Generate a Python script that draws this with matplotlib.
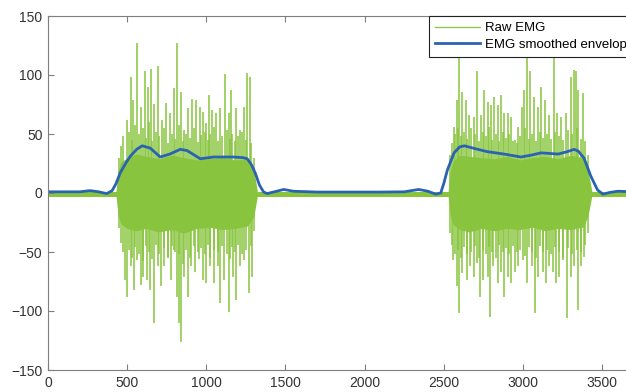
import matplotlib
matplotlib.use('Agg')
import matplotlib.pyplot as plt

plt.rcParams.update({
    'font.family': ['Liberation Sans', 'DejaVu Sans'],
    'font.size': 10,
})

# 색상
raw_color = '#88c43d'
env_color = '#2a63b2'

# 부드러운 포락선 (EMG smoothed envelope)
env_x = [0, 100, 200, 266, 320, 371, 405, 430, 456, 490, 519, 560, 595, 646, 709, 770, 835, 878,
         962, 1046, 1110, 1171, 1230, 1259, 1285, 1310, 1335, 1361, 1384, 1430, 1489, 1550,
         1700, 1900, 2100, 2250, 2342, 2400, 2449, 2481, 2500, 2523, 2565, 2600, 2630, 2700,
         2776, 2880, 2987, 3050, 3114, 3170, 3222, 3280, 3323, 3350, 3386, 3430, 3472, 3506,
         3550, 3600, 3700]
env_y = [1, 1, 1, 2, 1, -0.5, 2, 8, 17, 25, 31, 37, 40, 38, 30.5, 33, 37, 36,
         29, 30.5, 30.5, 30.5, 30, 29, 24, 16.7, 7, 1, -0.5, 1, 3, 1.5,
         0.8, 0.8, 0.8, 1, 3, 1.5, -1, 0, 8, 19.5, 34, 39, 40, 37.5,
         35, 33, 30.5, 32, 34, 33.5, 33, 35, 37, 35.5, 29.6, 14, 2.5, -1,
         0.5, 1.5, 1]

# 원시 EMG 기저 잡음 띠
base_x = [0, 3700]
base_hi = [1.0, 1.0]
base_lo = [-3.0, -3.0]

# 버스트 몸통 (밀집 영역)
body1_x = [430, 442, 460, 500, 560, 620, 700, 780, 860, 940, 1020, 1100, 1180, 1260, 1300, 1322]
body1_hi = [2, 18, 26, 30, 33, 31, 29, 32, 30, 28, 29, 30, 28, 29, 20, 2]
body1_lo = [-3, -18, -26, -30, -32, -30, -33, -31, -34, -30, -29, -31, -30, -28, -20, -3]
body2_x = [2528, 2540, 2560, 2600, 2660, 2740, 2820, 2900, 2980, 3060, 3140, 3220, 3300, 3380, 3410, 3435]
body2_hi = [2, 18, 27, 32, 31, 30, 29, 31, 28, 30, 31, 29, 32, 30, 20, 2]
body2_lo = [-3, -18, -27, -31, -33, -30, -32, -30, -31, -29, -32, -30, -31, -29, -20, -3]

# 양의 스파이크 (큰 것)
up_x = [498, 523, 540, 565, 587, 610, 629, 650, 671, 692, 719, 747, 772, 793, 814, 840, 861,
        882, 909, 937, 958, 979, 1000, 1015, 1036, 1063, 1089, 1120, 1141, 1156, 1190, 1215,
        1241, 1258, 1274,
        2565, 2582, 2597, 2618, 2639, 2660, 2688, 2713, 2736, 2755, 2777, 2798, 2819, 2840,
        2861, 2882, 2903, 2924, 2949, 2970, 2992, 3004, 3025, 3046, 3072, 3097, 3114, 3139,
        3167, 3194, 3215, 3240, 3272, 3304, 3321, 3335, 3350, 3378]
up_y = [62, 98.6, 79, 127, 73, 103, 90, 105, 75, 108, 62, 76, 67.5, 88.7, 127, 86, 53,
        72, 80, 79, 73, 69, 59, 83, 70, 67.5, 72, 101, 67.5, 87, 72, 53,
        73, 102, 98.6,
        56, 79, 120, 86, 79, 66, 64.7, 103, 66, 87, 77, 74.5, 81.6, 74.5,
        83, 67.5, 67.5, 64.7, 45, 56, 73, 87, 120, 103, 81.6, 73, 90, 79,
        66, 120, 67.5, 64.7, 67.5, 98.6, 104, 103, 87, 84.5]

# 음의 스파이크 (큰 것)
dn_x = [487, 502, 523, 544, 565, 587, 603, 625, 646, 667, 692, 713, 734, 755, 776, 797, 814,
        825, 840, 861, 882, 903, 930, 951, 979, 1000, 1021, 1046, 1072, 1089, 1110, 1146,
        1169, 1190, 1215, 1241, 1268, 1289,
        2561, 2582, 2597, 2618, 2646, 2667, 2692, 2713, 2730, 2751, 2777, 2793, 2814, 2840,
        2861, 2882, 2903, 2924, 2949, 2970, 2998, 3025, 3055, 3076, 3097, 3125, 3146, 3167,
        3188, 3209, 3230, 3251, 3278, 3304, 3325, 3346, 3367, 3388]
dn_y = [-73.7, -88, -62, -82, -57, -78, -71, -74, -82, -110, -62, -79, -62, -54, -74, -48, -88,
        -110, -126, -71, -88, -62, -67, -56, -74, -76.5, -62, -76.5, -62, -93.5, -74, -100.6,
        -71, -90.7, -62, -57, -85, -71,
        -56.8, -79, -102, -68, -73.7, -62, -71, -59.6, -88, -73.7, -71, -104.8, -62, -76.5,
        -67, -88, -71, -76.5, -67, -62, -56.8, -76.5, -62, -102, -71, -67, -76.5, -62,
        -67, -76.5, -71, -56.8, -106, -71, -62, -99, -62, -54]

# 중간 크기 스파이크 (밀집 질감)
mid_x = [450, 462, 475, 510, 532, 552, 576, 598, 618, 640, 660, 682, 704, 730, 760, 782, 804,
         828, 850, 872, 894, 920, 947, 968, 990, 1008, 1026, 1050, 1076, 1100, 1130, 1150,
         1165, 1180, 1202, 1228, 1250, 1282, 1300,
         2540, 2555, 2574, 2590, 2608, 2628, 2650, 2674, 2700, 2725, 2745, 2766, 2788, 2808,
         2830, 2850, 2872, 2892, 2914, 2936, 2960, 2982, 3015, 3036, 3060, 3085, 3106, 3127,
         3153, 3180, 3204, 3228, 3256, 3288, 3312, 3342, 3365, 3395, 3410]
mid_up = [30, 40, 48, 52, 45, 58, 50, 55, 47, 60, 44, 52, 48, 55, 42, 50, 46,
          58, 44, 50, 47, 55, 43, 49, 52, 45, 50, 56, 44, 48, 53, 46,
          50, 44, 48, 52, 45, 42, 30,
          32, 42, 50, 55, 48, 52, 46, 55, 50, 44, 52, 48, 56, 45,
          50, 44, 52, 47, 50, 44, 42, 48, 55, 46, 50, 44, 52, 47,
          50, 46, 52, 48, 45, 53, 50, 55, 46, 44, 32]
mid_dn = [-30, -42, -50, -48, -55, -46, -52, -58, -45, -50, -56, -44, -52, -47, -55, -45, -50,
          -52, -60, -48, -55, -45, -50, -47, -52, -44, -55, -48, -50, -45, -52, -56,
          -46, -50, -44, -52, -48, -45, -32,
          -34, -44, -52, -48, -55, -46, -52, -50, -45, -55, -48, -52, -46, -50,
          -55, -44, -50, -47, -52, -45, -50, -48, -53, -46, -50, -55, -45, -50,
          -48, -52, -46, -50, -55, -47, -52, -48, -50, -44, -34]

x_ticks = [0, 500, 1000, 1500, 2000, 2500, 3000, 3500]
y_ticks = [-150, -100, -50, 0, 50, 100, 150]

fig = plt.figure(figsize=(6.26, 3.92), dpi=100)
ax = fig.add_axes([48 / 626, 22 / 392, 585.7 / 626, 354 / 392])

# 원시 EMG
ax.fill_between(base_x, base_lo, base_hi, color=raw_color, linewidth=0)
ax.fill_between(body1_x, body1_lo, body1_hi, color=raw_color, linewidth=0)
ax.fill_between(body2_x, body2_lo, body2_hi, color=raw_color, linewidth=0)
ax.vlines(mid_x, mid_dn, mid_up, color=raw_color, linewidth=1.1)
ax.vlines(up_x, 0, up_y, color=raw_color, linewidth=1.1)
ax.vlines(dn_x, 0, dn_y, color=raw_color, linewidth=1.1)
raw_line, = ax.plot(base_x, [-1, -1], color=raw_color, linewidth=1.0, label='Raw EMG')

# 포락선
env_line, = ax.plot(env_x, env_y, color=env_color, linewidth=2.0, label='EMG smoothed envelope')

ax.set_xlim(0, 3700)
ax.set_ylim(-150, 150)
ax.set_xticks(x_ticks)
ax.set_yticks(y_ticks)
ax.tick_params(direction='in', top=True, right=True, length=4, width=0.8,
               colors='#7f7f7f', labelcolor='#333333', labelsize=10, pad=4)
for sp in ax.spines.values():
    sp.set_color('#7f7f7f')
    sp.set_linewidth(0.8)

# 범례 (오른쪽이 그림 밖으로 잘림)
leg = ax.legend(handles=[raw_line, env_line], loc='upper left',
                bbox_to_anchor=((429 - 48) / 585.7, 1), borderaxespad=0,
                fancybox=False, framealpha=1, edgecolor='#222222', fontsize=9.5,
                handlelength=3.4, handletextpad=0.4, labelspacing=0.35, borderpad=0.45)
leg.get_frame().set_linewidth(0.8)
leg.get_lines()[0].set_linewidth(0.9)
leg.get_lines()[1].set_linewidth(2.0)

fig.savefig('out.png', dpi=100)
